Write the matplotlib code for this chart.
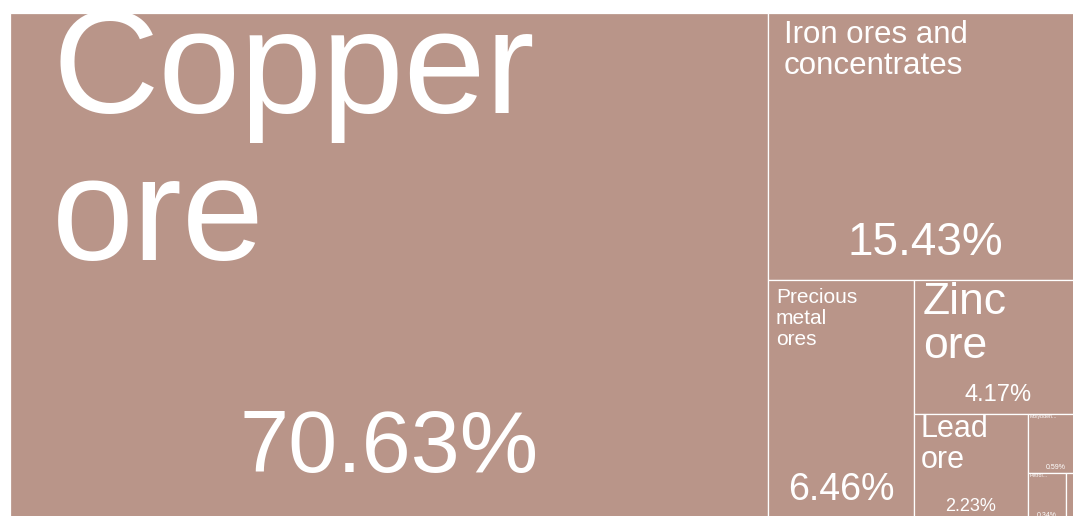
import matplotlib.pyplot as plt
from matplotlib.patches import Rectangle

# Ore export shares (%)
labels = ["Copper\nore", "Iron ores and\nconcentrates", "Precious\nmetal\nores",
          "Zinc\nore", "Lead\nore", "Molybden...", "Petrol...", ""]
shares = [70.63, 15.43, 6.46, 4.17, 2.23, 0.59, 0.34, 0.15]
pct_text = ["70.63%", "15.43%", "6.46%", "4.17%", "2.23%", "0.59%", "0.34%", ""]

# text styling per tile (font size in pt, label offset from tile corner in px)
label_size = [106, 22.5, 15, 32, 22, 3.8, 3.8, 1]
value_size = [63.5, 33, 27, 17, 13, 5, 5, 1]
label_pad = [(42, 100), (16, 30), (8, 23), (9, 34), (7, 23), (2, 4), (2, 4), (0, 0)]

FILL = "#b99589"
W, H = 1073.0, 508.0


def worst(row, side):
    s = sum(row)
    return max(max(side * side * r / (s * s), s * s / (side * side * r)) for r in row)


def layout_row(row, x, y, w, h):
    s = sum(row)
    rects = []
    if w >= h:
        # column along the left edge
        cw = s / h
        yy = y
        for r in row:
            rh = r / cw
            rects.append((x, yy, cw, rh))
            yy += rh
        return rects, (x + cw, y, w - cw, h)
    rh = s / w
    xx = x
    for r in row:
        rw = r / rh
        rects.append((xx, y, rw, rh))
        xx += rw
    return rects, (x, y + rh, w, h - rh)


def squarify(vals, x, y, w, h):
    total = sum(vals)
    areas = [v * w * h / total for v in vals]
    out = []
    i = 0
    while i < len(areas):
        side = min(w, h)
        row = [areas[i]]
        i += 1
        while i < len(areas) and worst(row + [areas[i]], side) <= worst(row, side):
            row.append(areas[i])
            i += 1
        rects, (x, y, w, h) = layout_row(row, x, y, w, h)
        out.extend(rects)
    return out


fig = plt.figure(figsize=(10.73, 5.16), dpi=100)
ax = fig.add_axes([10 / 1073, -5 / 516, W / 1073, H / 516])
ax.set_xlim(0, W)
ax.set_ylim(H, 0)
ax.axis("off")

plt.rcParams["font.family"] = ["Liberation Sans", "DejaVu Sans"]

for k, (rx, ry, rw, rh) in enumerate(squarify(shares, 0, 0, W, H)):
    ax.add_patch(Rectangle((rx, ry), rw, rh, facecolor=FILL, edgecolor="white",
                           linewidth=0.9, clip_on=False))
    em = label_size[k] * 100 / 72
    px, py = label_pad[k]
    for j, line in enumerate(labels[k].split("\n")):
        if line:
            ax.text(rx + px, ry + py + j * em, line, color="white",
                    fontsize=label_size[k], ha="left", va="baseline", clip_on=False)
    if pct_text[k]:
        vem = value_size[k] * 100 / 72
        ax.text(rx + rw / 2, ry + rh - 0.55 * vem, pct_text[k], color="white",
                fontsize=value_size[k], ha="center", va="baseline", clip_on=False)

fig.savefig("out.png", dpi=100)
